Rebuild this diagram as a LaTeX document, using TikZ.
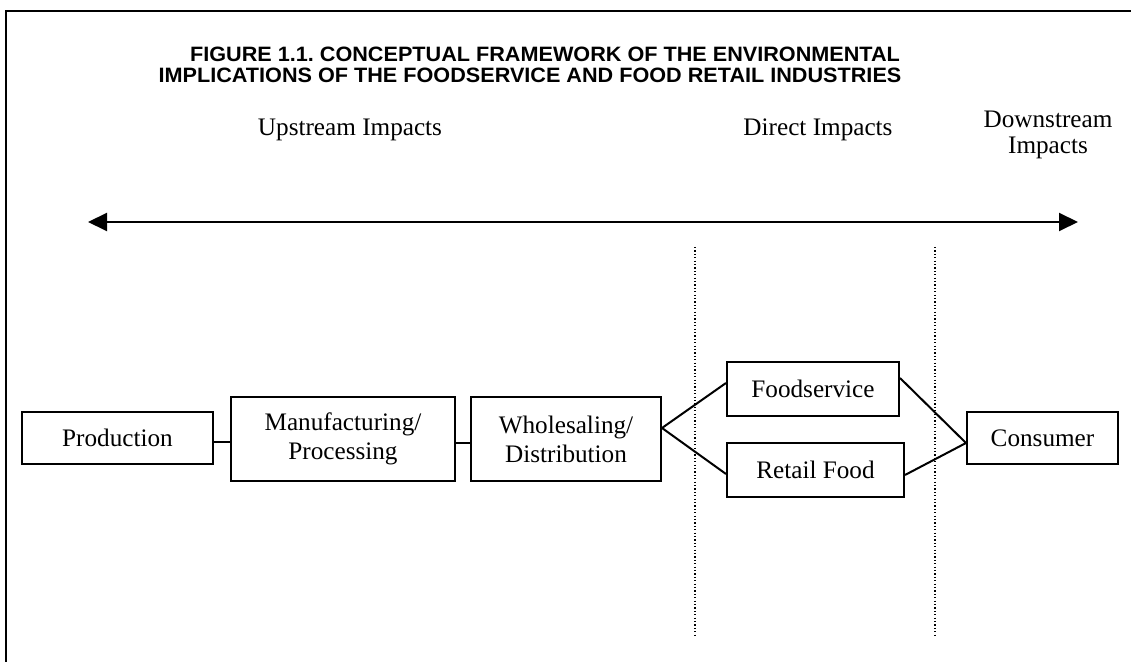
\documentclass[tikz,border=0pt]{standalone}
\usepackage{fontspec}
\setmainfont{Liberation Serif}
\setsansfont{Liberation Sans}
\usepackage{tikz}
\usetikzlibrary{arrows.meta}
\frenchspacing

\tikzset{
  stage/.style={draw, line width=1pt, inner sep=2pt, align=center,
    font=\fontsize{12.6}{14.5}\selectfont},
  heading/.style={font=\fontsize{10.4}{12}\selectfont\sffamily\bfseries, xscale=1.04},
  link/.style={line width=1pt},
  border/.style={dotted, line width=0.6pt, dash pattern=on 0.6pt off 1.1pt}
}

\begin{document}
\begin{tikzpicture}[x=0.5pt, y=-0.5pt]
\useasboundingbox (0,0) rectangle (1131,662);
%% open frame, top and left side only
\draw[line width=1pt] (1131,11) -- (6,11) -- (6,662);
%% heading, two lines
\node[heading] (title1) at (545,54) {FIGURE 1.1. CONCEPTUAL FRAMEWORK OF THE ENVIRONMENTAL};
\node[heading] (title2) at (530,75) {IMPLICATIONS OF THE FOODSERVICE AND FOOD RETAIL INDUSTRIES};
%% impact labels over the arrow
\node[font=\fontsize{12.6}{14.5}\selectfont] (up) at (350,130) {Upstream Impacts};
\node[font=\fontsize{12.6}{14.5}\selectfont] (direct) at (818,130) {Direct Impacts};
\node[font=\fontsize{12.6}{13}\selectfont, align=center] (down) at (1048,135) {Downstream\\Impacts};
\draw[line width=1pt, {Triangle[length=9.5pt,width=9pt]}-{Triangle[length=9.5pt,width=9pt]}] (88,222) -- (1078,222);
%% dotted borders of the direct impacts
\draw[border] (695,247) -- (695,635);
\draw[border] (935,247) -- (935,635);
%% chain of stages
\node[stage, minimum width=95.5pt, minimum height=26pt] (prod) at (117.5,438) {Production};
\node[stage, minimum width=112pt, minimum height=42pt] (manu) at (343,439) {Manufacturing/\\Processing};
\node[stage, minimum width=95pt, minimum height=42pt] (ws) at (566,439) {Wholesaling/\\Distribution};
\node[stage, minimum width=86pt, minimum height=27pt] (fs) at (813,389) {Foodservice};
\node[stage, minimum width=88.5pt, minimum height=27pt] (rf) at (815.5,470) {Retail Food};
\node[stage, minimum width=75.5pt, minimum height=26pt] (con) at (1042.5,438) {Consumer};
%% links
\draw[link] ([yshift=-2pt]prod.east) -- ([yshift=-2pt]prod.east -| manu.west);
\draw[link] ([yshift=-2pt]manu.east) -- ([yshift=-2pt]ws.west);
\coordinate (fork) at ([yshift=5.5pt]ws.east);
\draw[link] ([yshift=3pt]fs.west) -- (fork) -- ([yshift=-2pt]rf.west);
\coordinate (join) at ([yshift=-2.5pt]con.west);
\draw[link] ([yshift=5.5pt]fs.east) -- (join) -- ([yshift=-2.5pt]rf.east);
\end{tikzpicture}
\end{document}
